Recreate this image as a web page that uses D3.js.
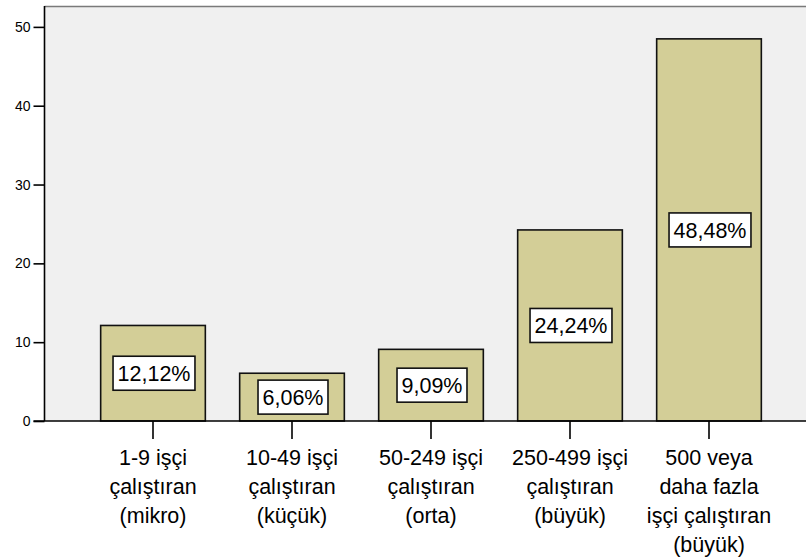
<!DOCTYPE html>
<html>
<head>
<meta charset="utf-8">
<script src="https://cdn.jsdelivr.net/npm/d3@7"></script>
<style>
  html, body { margin: 0; padding: 0; background: #fff; }
  svg { display: block; font-family: "Liberation Sans", Arial, Helvetica, sans-serif; }
</style>
</head>
<body>
<svg id="chart" width="806" height="559"></svg>
<script>
// Firm size categories (each label split into its drawn lines)
const categories = [
  ["1-9 işçi", "çalıştıran", "(mikro)"],
  ["10-49 işçi", "çalıştıran", "(küçük)"],
  ["50-249 işçi", "çalıştıran", "(orta)"],
  ["250-499 işçi", "çalıştıran", "(büyük)"],
  ["500 veya", "daha fazla", "işçi çalıştıran", "(büyük)"]
];
// Percent of firms in each category
const percents = [12.12, 6.06, 9.09, 24.24, 48.48];
// Y axis tick values
const yTicks = [0, 10, 20, 30, 40, 50];

const svg = d3.select("#chart");

// Plot panel geometry
const panel = { left: 44.5, top: 6, right: 806, bottom: 421 };

const keys = categories.map((c, i) => i);
const x = d3.scaleBand()
  .domain(keys)
  .range([83.5, 778.5])
  .paddingInner(0.247)
  .paddingOuter(0.1235);

const y = d3.scaleLinear()
  .domain([0, 52.65])
  .range([panel.bottom, panel.top]);

// Panel background
svg.append("rect")
  .attr("x", panel.left)
  .attr("y", panel.top)
  .attr("width", panel.right - panel.left)
  .attr("height", panel.bottom - panel.top)
  .attr("fill", "#f0f0f0");

// Top edge of the panel
svg.append("line")
  .attr("x1", panel.left).attr("x2", panel.right)
  .attr("y1", panel.top + 0.5).attr("y2", panel.top + 0.5)
  .attr("stroke", "#7a7a7a").attr("stroke-width", 1.5);

// Bars
svg.append("g").selectAll("rect")
  .data(percents)
  .join("rect")
  .attr("x", (d, i) => x(i))
  .attr("y", d => y(d))
  .attr("width", x.bandwidth())
  .attr("height", d => y(0) - y(d))
  .attr("fill", "#d3ce97")
  .attr("stroke", "#111")
  .attr("stroke-width", 1.6);

// Y axis
const yAxis = svg.append("g")
  .attr("transform", `translate(${panel.left},0)`)
  .call(d3.axisLeft(y).tickValues(yTicks).tickSize(11).tickPadding(3).tickSizeOuter(0));
yAxis.select(".domain").remove();
yAxis.selectAll(".tick line").attr("stroke", "#000").attr("stroke-width", 1.6);
yAxis.selectAll(".tick text")
  .attr("fill", "#000")
  .style("font-size", "14px")
  .style("font-family", "'Liberation Sans', Arial, sans-serif");
svg.append("line")
  .attr("x1", panel.left).attr("x2", panel.left)
  .attr("y1", panel.top).attr("y2", panel.bottom)
  .attr("stroke", "#000").attr("stroke-width", 1.6);

// X axis
const xAxis = svg.append("g")
  .attr("transform", `translate(0,${panel.bottom})`)
  .call(d3.axisBottom(x).tickSize(18).tickSizeOuter(0).tickFormat(""));
xAxis.select(".domain").remove();
xAxis.selectAll(".tick line").attr("stroke", "#000").attr("stroke-width", 1.6);
svg.append("line")
  .attr("x1", panel.left - 11).attr("x2", panel.right)
  .attr("y1", panel.bottom).attr("y2", panel.bottom)
  .attr("stroke", "#000").attr("stroke-width", 1.6);

// Category labels, multi-line
const catG = svg.append("g");
categories.forEach((lines, i) => {
  const t = catG.append("text")
    .attr("x", x(i) + x.bandwidth() / 2)
    .attr("y", 465)
    .attr("text-anchor", "middle")
    .attr("fill", "#000")
    .style("font-size", "21.5px");
  lines.forEach((ln, j) => {
    t.append("tspan")
      .attr("x", x(i) + x.bandwidth() / 2)
      .attr("dy", j === 0 ? 0 : 29)
      .text(ln);
  });
});

// Value labels in boxes at the middle of each bar
const fmt = v => d3.format(".2f")(v).replace(".", ",") + "%";
const labG = svg.append("g");
percents.forEach((v, i) => {
  const cx = x(i) + x.bandwidth() / 2 + 1;
  const cy = (y(v) + y(0)) / 2;
  const g = labG.append("g");
  const box = g.append("rect");
  const txt = g.append("text")
    .attr("x", cx)
    .attr("y", cy)
    .attr("dy", "0.36em")
    .attr("text-anchor", "middle")
    .attr("fill", "#000")
    .style("font-size", "21.5px")
    .text(fmt(v));
  const w = txt.node().getComputedTextLength() + 9;
  const h = 34;
  box.attr("x", cx - w / 2)
    .attr("y", cy - h / 2)
    .attr("width", w)
    .attr("height", h)
    .attr("fill", "#fff")
    .attr("stroke", "#111")
    .attr("stroke-width", 1.6);
});
</script>
</body>
</html>
